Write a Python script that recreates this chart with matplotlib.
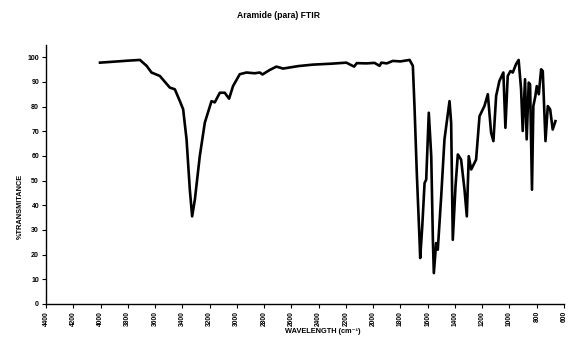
import matplotlib
matplotlib.use("Agg")
import matplotlib.pyplot as plt

# wavenumber (cm-1) and %T
wavenumber = [4004, 3900, 3800, 3711, 3662, 3626, 3565, 3492, 3455, 3418, 3394, 3369,
              3345, 3328, 3308, 3272, 3235, 3186, 3162, 3125, 3089, 3057, 3028, 2979,
              2930, 2870, 2832, 2812, 2760, 2710, 2661, 2550, 2442, 2300, 2197, 2140,
              2120, 2050, 1990, 1953, 1940, 1900, 1856, 1800, 1733, 1709, 1697, 1680,
              1660, 1655, 1640, 1623, 1611, 1592, 1574, 1562, 1555, 1538, 1526, 1501,
              1477, 1440, 1428, 1416, 1396, 1379, 1355, 1330, 1313, 1299, 1281, 1245,
              1220, 1184, 1159, 1135, 1118, 1098, 1074, 1045, 1030, 1013, 993, 976,
              952, 933, 915, 903, 886, 874, 859, 849, 835, 825, 810, 800, 785, 768,
              756, 736, 719, 702, 683, 663]
transmittance = [97.8, 98.2, 98.6, 98.9, 96.5, 93.8, 92.4, 87.7, 87.0, 82.2, 78.9, 66.7,
                 46.3, 35.5, 42.3, 59.9, 73.5, 82.2, 81.7, 85.6, 85.6, 83.2, 88.3, 93.1,
                 93.8, 93.5, 93.8, 93.0, 94.8, 96.2, 95.4, 96.4, 97.0, 97.4, 97.8, 96.2,
                 97.6, 97.5, 97.7, 96.5, 97.8, 97.5, 98.5, 98.3, 98.9, 96.5, 80.2, 53.1,
                 26.0, 18.6, 31.4, 49.0, 50.4, 77.5, 59.9, 26.0, 12.5, 24.7, 22.0, 43.6,
                 66.7, 82.2, 73.4, 26.0, 47.7, 60.6, 58.5, 46.3, 35.5, 59.9, 54.5, 58.5,
                 76.1, 80.2, 85.0, 69.4, 66.0, 84.3, 90.4, 93.8, 71.4, 92.4, 94.4, 93.8,
                 97.2, 98.9, 87.0, 70.1, 91.1, 66.7, 89.7, 89.0, 46.3, 80.2, 84.3, 88.3,
                 85.0, 95.1, 94.4, 66.0, 80.2, 78.9, 70.7, 74.1]

x_ticks = list(range(4400, 599, -200))
y_ticks = list(range(0, 101, 10))

plt.rcParams['font.family'] = ['Liberation Sans', 'DejaVu Sans']

fig = plt.figure(figsize=(5.68, 3.40), dpi=100)
ax = fig.add_axes([0.081, 0.106, 0.912, 0.762])
ax.plot(wavenumber, transmittance, color='black', lw=1.9)

ax.set_xlim(4400, 600)
ax.set_ylim(0, 105)
ax.set_xticks(x_ticks)
ax.set_xticklabels([str(t) for t in x_ticks], rotation=90, fontsize=4.8, fontweight='bold')
ax.set_yticks(y_ticks)
ax.set_yticklabels([str(t) for t in y_ticks], fontsize=5, fontweight='bold')
ax.tick_params(length=3, width=0.8, pad=2)
ax.spines['top'].set_visible(False)
ax.spines['right'].set_visible(False)
ax.spines['left'].set_linewidth(1)
ax.spines['bottom'].set_linewidth(1)

fig.text(0.491, 0.953, 'Aramide (para) FTIR', ha='center', va='center', fontsize=6.2, fontweight='bold')
fig.text(0.569, 0.024, 'WAVELENGTH (cm\u207b\u00b9)', ha='center', va='center', fontsize=5.3, fontweight='bold')
fig.text(0.035, 0.394, '%TRANSMITANCE', ha='center', va='center', rotation=90, fontsize=5.3, fontweight='bold')

fig.savefig('out.png', dpi=100)
